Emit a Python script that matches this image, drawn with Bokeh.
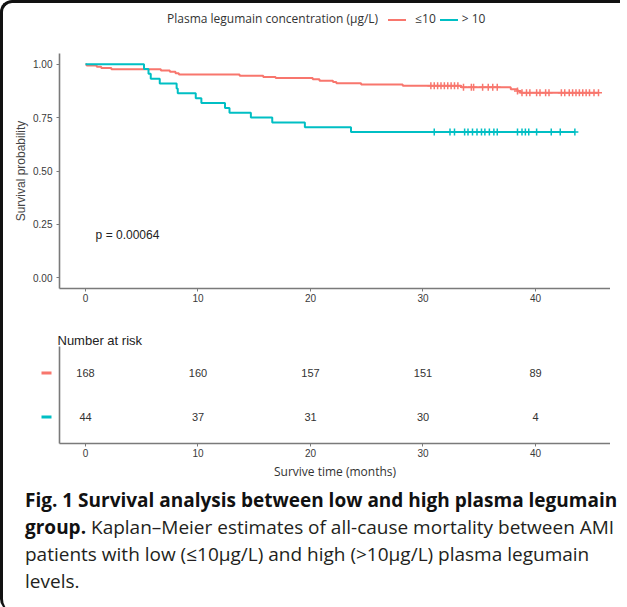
from bokeh.plotting import figure
from bokeh.models import (FixedTicker, NumeralTickFormatter, Div, FactorRange,
                          Range1d, ColumnDataSource)
from bokeh.layouts import column, row
from bokeh.embed import file_html
from bokeh.resources import INLINE
from bokeh.core.properties import value
import numpy as np

# ---------------- data ----------------
group_names = ["\u226410", "> 10"]
group_colors = ["#F8766D", "#00BFC4"]

low_time = [0, 0.1, 1.0, 1.4, 2.3, 6.7, 7.5, 8.0, 8.3, 13.7, 15.8, 16.9, 20.2, 20.8,
            22.0, 22.3, 24.5, 28.2, 33.4, 37.8, 38.4, 38.7, 45.6]
low_surv = [1.0, 0.994, 0.988, 0.982, 0.976, 0.970, 0.964, 0.958, 0.952, 0.946, 0.940,
            0.935, 0.929, 0.923, 0.917, 0.911, 0.905, 0.899, 0.892, 0.883, 0.874, 0.866, 0.866]
low_censor = [30.7, 31.0, 31.3, 31.6, 31.9, 32.2, 32.5, 32.8, 33.1, 33.6, 34.3, 34.5, 35.3,
              35.8, 36.2, 36.6, 38.4, 38.8, 39.2, 39.5, 40.1, 40.4, 40.9, 41.2, 42.3, 42.6,
              43.0, 43.3, 43.6, 43.9, 44.2, 44.5, 44.8, 45.2, 45.6]

high_time = [0, 5.2, 5.6, 5.8, 6.6, 8.1, 8.2, 9.8, 10.3, 12.4, 12.8, 14.7, 16.6, 19.5, 23.6, 43.5]
high_surv = [1.0, 0.977, 0.955, 0.932, 0.909, 0.886, 0.864, 0.841, 0.818, 0.795, 0.773,
             0.750, 0.727, 0.705, 0.682, 0.682]
high_censor = [31.0, 32.4, 32.8, 33.7, 34.0, 34.4, 34.8, 35.2, 35.5, 35.9, 36.3, 36.6,
               38.4, 38.8, 39.1, 39.4, 40.1, 41.4, 42.2, 43.5]

risk_times = [0, 10, 20, 30, 40]
risk_low = [168, 160, 157, 151, 89]
risk_high = [44, 37, 31, 30, 4]

x_ticks = [0, 10, 20, 30, 40]
y_ticks = [0, 0.25, 0.5, 0.75, 1.0]
p_text = "p = 0.00064"
p_x, p_y = 0.9, 0.2

legend_title = "Plasma legumain concentration (\u03bcg/L)"
caption_bold = "Fig. 1 Survival analysis between low and high plasma legumain<br>group."
caption_rest = (" Kaplan\u2013Meier estimates of all-cause mortality between AMI<br>"
                "patients with low (\u226410\u03bcg/L) and high (&gt;10\u03bcg/L) plasma legumain<br>levels.")

AX = "#7a7a7a"
TXT = "#3a3a3a"
ARIAL = "Liberation Sans"

X_START = -2.311
PX_PER_MONTH = 11.25
FIG_W = 607
LEFT = 56
X_END = X_START + (FIG_W - LEFT) / PX_PER_MONTH
KEY_W = 50            # width of the little strip that carries the coloured risk-table keys
RISK_H, RISK_TOP, RISK_BOTTOM = 168, 32, 39

def step_at(times, surv, t):
    idx = np.searchsorted(np.array(times), np.array(t), side="right") - 1
    return list(np.array(surv)[idx])

# ---------------- legend strip ----------------
def swatch(c, ml, mr):
    return (f'<span style="display:inline-block;width:18px;height:2px;background:{c};'
            f'vertical-align:middle;margin:0 {mr}px 0 {ml}px"></span>')

legend_html = (f'<div style="padding-left:159px;padding-top:3px;text-align:left;'
               f'white-space:nowrap;font-family:\'Open Sans\';font-size:12px;line-height:16px;color:#333">'
               f'{legend_title}{swatch(group_colors[0], 10, 9)}{group_names[0]}'
               f'{swatch(group_colors[1], 4, 4)}{group_names[1]}</div>')
legend_div = Div(text=legend_html, width=FIG_W, height=19)

# ---------------- main KM plot ----------------
p = figure(width=FIG_W, height=282, x_range=Range1d(X_START, X_END), y_range=Range1d(-0.05, 1.05),
           output_backend="svg", toolbar_location=None,
           min_border_left=LEFT, min_border_right=0, min_border_top=21, min_border_bottom=26)
p.outline_line_color = None
p.grid.visible = False

for t, s, cens, col in [(low_time, low_surv, low_censor, group_colors[0]),
                        (high_time, high_surv, high_censor, group_colors[1])]:
    p.step(t, s, mode="after", line_color=col, line_width=2)
    p.scatter(cens, step_at(t, s, cens), marker="cross", size=7, line_color=col, line_width=1.5)

p.text(x=[p_x], y=[p_y], text=[p_text], text_font=value(ARIAL), text_font_size="12px",
       text_color="#222", text_align="left", text_baseline="middle")

for ax in (p.xaxis[0], p.yaxis[0]):
    ax.axis_line_color = AX
    ax.axis_line_width = 1.6
    ax.major_tick_line_color = AX
    ax.major_tick_in = 0
    ax.major_tick_out = 3
    ax.minor_tick_line_color = None
    ax.major_label_text_font = ARIAL
    ax.major_label_text_font_size = "10px"
    ax.major_label_text_color = TXT
p.xaxis.ticker = FixedTicker(ticks=x_ticks)
p.xaxis.major_label_standoff = 2
p.yaxis.ticker = FixedTicker(ticks=y_ticks)
p.yaxis.formatter = NumeralTickFormatter(format="0.00")
p.yaxis.major_label_standoff = 4
p.yaxis.axis_label = "Survival probability"
p.yaxis.axis_label_text_font = ARIAL
p.yaxis.axis_label_text_font_size = "12px"
p.yaxis.axis_label_text_font_style = "normal"
p.yaxis.axis_label_text_color = "#444"
p.yaxis.axis_label_standoff = 2

# ---------------- risk table ----------------
risk_factors = [group_names[1], group_names[0]]
risk_y = FactorRange(factors=risk_factors, range_padding=0.1, range_padding_units="absolute")

r = figure(width=FIG_W - KEY_W, height=RISK_H, x_range=p.x_range, y_range=risk_y,
           output_backend="svg", toolbar_location=None, title="Number at risk",
           min_border_left=LEFT - KEY_W, min_border_right=0,
           min_border_top=RISK_TOP, min_border_bottom=RISK_BOTTOM)
r.outline_line_color = None
r.grid.visible = False
r.title.text_font = ARIAL
r.title.text_font_size = "13px"
r.title.text_font_style = "normal"
r.title.text_color = "#222"
r.title.align = "left"
r.title.offset = -2
r.title.standoff = -3

src = ColumnDataSource(dict(
    time=risk_times * 2,
    group=[group_names[0]] * len(risk_times) + [group_names[1]] * len(risk_times),
    label=[str(v) for v in risk_low + risk_high]))
r.text(x="time", y="group", text="label", source=src, text_font=value(ARIAL),
       text_font_size="11px", text_color="#333", text_align="center", text_baseline="middle")

r.xaxis.ticker = FixedTicker(ticks=x_ticks)
for ax in (r.xaxis[0], r.yaxis[0]):
    ax.axis_line_color = AX
    ax.axis_line_width = 1.6
    ax.minor_tick_line_color = None
r.xaxis.major_tick_line_color = AX
r.xaxis.major_tick_in = 0
r.xaxis.major_tick_out = 3
r.xaxis.major_label_text_font = ARIAL
r.xaxis.major_label_text_font_size = "10px"
r.xaxis.major_label_text_color = TXT
r.xaxis.major_label_standoff = 2
r.xaxis.axis_label = "Survive time (months)"
r.xaxis.axis_label_text_font = "Open Sans"
r.xaxis.axis_label_text_font_size = "12px"
r.xaxis.axis_label_text_font_style = "normal"
r.xaxis.axis_label_text_color = "#333"
r.xaxis.axis_label_standoff = 3
r.yaxis.ticker = FixedTicker(ticks=[])
r.yaxis.major_tick_line_color = None

# coloured keys left of the risk table (share the table's y scale)
k = figure(width=KEY_W, height=RISK_H, x_range=Range1d(-1.72, 0.28), y_range=risk_y,
           output_backend="svg", toolbar_location=None,
           x_axis_location=None, y_axis_location=None,
           min_border_left=0, min_border_right=0,
           min_border_top=RISK_TOP, min_border_bottom=RISK_BOTTOM)
k.outline_line_color = None
k.grid.visible = False
k.scatter(x=[0, 0], y=group_names, marker="dash", size=10, line_width=3,
          line_color=group_colors)

# ---------------- caption ----------------
cap_html = (f'<div style="padding:0 0 0 17px;white-space:nowrap;font-family:\'Open Sans\';'
            f'font-size:19px;line-height:27px;color:#231f20">'
            f'<b style="color:#111">{caption_bold}</b>{caption_rest}</div>')
cap_div = Div(text=cap_html, width=FIG_W, height=119)

layout = column(legend_div, p, row(k, r, spacing=0), cap_div, spacing=0,
                styles={"border-left": "3px solid #111", "border-top": "3px solid #111",
                        "border-top-left-radius": "12px", "border-bottom-left-radius": "12px"})

open("out.html", "w").write(file_html(layout, INLINE))
